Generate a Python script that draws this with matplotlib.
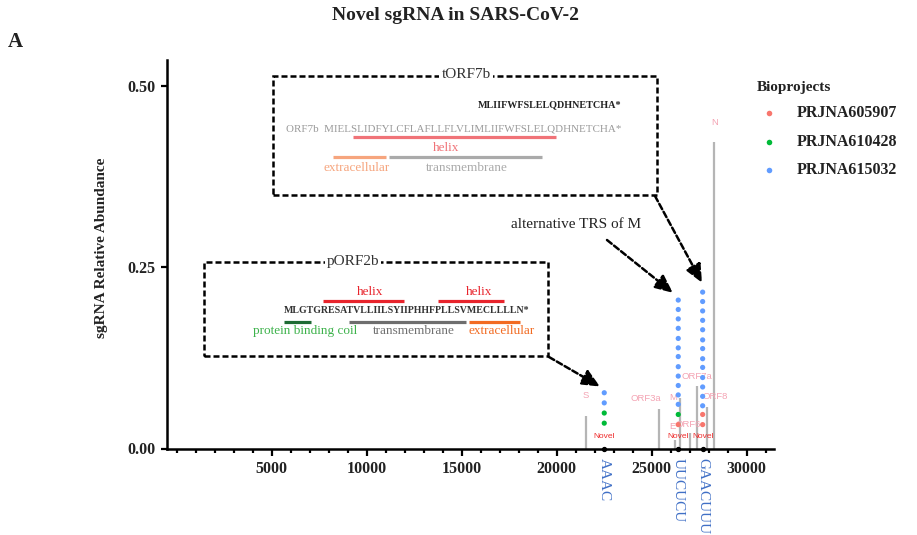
import matplotlib
matplotlib.use('Agg')
import matplotlib.pyplot as plt
from matplotlib.lines import Line2D
from matplotlib.patches import Rectangle
from matplotlib.ticker import MultipleLocator

W, H = 917, 535
SERIF = 'Liberation Serif'
SANS = 'Liberation Sans'

# ---------------- data ----------------
canon_genes = ['S', 'ORF3a', 'E', 'M', 'ORF6', 'ORF7a', 'ORF8', 'N']
canon_pos = [21542, 25384, 26226, 26489, 27016, 27384, 27910, 28295]
canon_abund = [0.045, 0.054, 0.012, 0.070, 0.021, 0.086, 0.057, 0.423]

novel_pos = [22505, 26400, 27684]
novel_motif = ['AAAC', 'UUCUCU', 'GAACUUU']

projects = ['PRJNA605907', 'PRJNA610428', 'PRJNA615032']
project_colors = ['#F8766D', '#00BA38', '#619CFF']

# abundance values of each novel sgRNA, per bioproject (one list per novel site)
abund_605907 = [[], [0.033], [0.047, 0.033]]
abund_610428 = [[0.049, 0.035], [0.047], []]
abund_615032 = [
    [0.077, 0.063],
    [0.205, 0.192, 0.179, 0.166, 0.152, 0.139, 0.127, 0.113, 0.100, 0.087, 0.074, 0.061],
    [0.216, 0.203, 0.190, 0.177, 0.164, 0.150, 0.138, 0.124, 0.112, 0.098, 0.085, 0.072, 0.059],
]
project_abund = [abund_605907, abund_610428, abund_615032]

x_ticks = [5000, 10000, 15000, 20000, 25000, 30000]
y_ticks = [0.00, 0.25, 0.50]

# label placement offsets (px) for gene names: (dx, dy) relative to the line top
label_off = {'S': (0, -20), 'ORF3a': (-13, -11), 'E': (-3, -13), 'M': (-7, 0),
             'ORF6': (-2, -9), 'ORF7a': (0, -10), 'ORF8': (8, -11), 'N': (0, -20)}

# ---------------- figure ----------------
fig = plt.figure(figsize=(W / 100, H / 100), dpi=100)
ax = fig.add_axes([167 / W, 1 - 448.5 / H, (774 - 167) / W, (448.5 - 60) / H])
ax.set_xlim(-510, 31440)
ax.set_ylim(0, 0.5366)

def fx(x):
    return x / W

def fy(y):
    return 1 - y / H

# canonical sgRNA lines
ax.vlines(canon_pos, 0, canon_abund, color='#b5b5b5', lw=1.6, zorder=2)
for g, p, a in zip(canon_genes, canon_pos, canon_abund):
    dx, dy = label_off[g]
    ax.annotate(g, (p, a), xytext=(dx * 0.72, -dy * 0.72), textcoords='offset points',
                ha='center', va='center', fontsize=6.8, family=SANS, color='#F4A3B3', zorder=4)

# novel sgRNA dots
for proj, col, ab in zip(projects, project_colors, project_abund):
    xs, ys = [], []
    for p, vals in zip(novel_pos, ab):
        xs += [p] * len(vals)
        ys += vals
    ax.scatter(xs, ys, s=14, color=col, edgecolors='none', zorder=5, label=proj)

ax.scatter(novel_pos, [0] * len(novel_pos), s=8, color='black', zorder=6, clip_on=False)
for p, m in zip(novel_pos, novel_motif):
    ax.annotate('Novel', (p, 0), xytext=(0, 8.3), textcoords='offset points',
                ha='center', va='center', fontsize=6.0, family=SANS, color='#EE2A2A', zorder=4)
    ax.annotate(m, (p, 0), xytext=(0, -7), textcoords='offset points', rotation=-90,
                ha='center', va='top', fontsize=11, family=SERIF, color='#3F6FC6',
                annotation_clip=False)

# axes styling
for s in ['top', 'right']:
    ax.spines[s].set_visible(False)
for s in ['left', 'bottom']:
    ax.spines[s].set_linewidth(1.8)
    ax.spines[s].set_color('black')
ax.set_xticks(x_ticks)
ax.set_xticklabels([str(t) for t in x_ticks])
ax.xaxis.set_minor_locator(MultipleLocator(1000))
ax.set_yticks(y_ticks)
ax.set_yticklabels(['%.2f' % t for t in y_ticks])
ax.tick_params(axis='x', which='major', length=5, width=1.6, pad=4, color='black')
ax.tick_params(axis='x', which='minor', length=3, width=1.6, color='black')
ax.tick_params(axis='y', which='major', length=4, width=1.6, pad=4, color='black')
for lab in ax.get_xticklabels() + ax.get_yticklabels():
    lab.set_family(SERIF)
    lab.set_fontweight('bold')
    lab.set_fontsize(11.5)
    lab.set_color('#222222')
ax.set_ylabel('sgRNA Relative Abundance', family=SERIF, fontweight='bold', fontsize=11,
              color='#222222', labelpad=12)
ax.yaxis.set_label_coords((108 - 167) / (774 - 167), (448.5 - 248) / (448.5 - 60))

# titles
fig.text(fx(455), fy(16), 'Novel sgRNA in SARS-CoV-2', ha='center', va='center',
         family=SERIF, fontweight='bold', fontsize=14, color='#222222')
fig.text(fx(15), fy(42), 'A', ha='center', va='center', family=SERIF,
         fontweight='bold', fontsize=15, color='#222222')

# legend (manual)
fig.text(fx(757), fy(87), 'Bioprojects', ha='left', va='center', family=SERIF,
         fontweight='bold', fontsize=11, color='#222222')
for i, (proj, col) in enumerate(zip(projects, project_colors)):
    yy = 113 + i * 28.5
    fig.add_artist(Line2D([fx(769)], [fy(yy)], marker='o', ms=4, color=col, mec='none',
                          transform=fig.transFigure))
    fig.text(fx(797), fy(yy), proj, ha='left', va='center', family=SERIF,
             fontweight='bold', fontsize=11.5, color='#222222')

# ---------------- annotation boxes ----------------
DASH = (0, (2.4, 1.2))

def dbox(x0, y0, x1, y1):
    fig.add_artist(Rectangle((fx(x0), fy(y1)), (x1 - x0) / W, (y1 - y0) / H,
                             transform=fig.transFigure, fill=False, ec='black',
                             lw=1.8, ls=DASH, zorder=3))

def bar(x0, x1, y, col, lw=2.3):
    fig.add_artist(Line2D([fx(x0), fx(x1)], [fy(y), fy(y)], color=col, lw=lw,
                          solid_capstyle='butt', transform=fig.transFigure, zorder=4))

def txt(x, y, s, col, size, weight='normal', ha='center', bg=False):
    kw = {}
    if bg:
        kw['bbox'] = dict(fc='white', ec='none', pad=1.5)
    fig.text(fx(x), fy(y), s, ha=ha, va='center', family=SERIF, fontsize=size,
             fontweight=weight, color=col, zorder=5, **kw)

# tORF7b box
dbox(273, 76, 657, 195)
txt(466, 74, 'tORF7b', '#333333', 11, bg=True)
txt(621, 105, 'MLIIFWFSLELQDHNETCHA*', '#222222', 7.3, weight='bold', ha='right')
txt(621, 129, 'ORF7b  MIELSLIDFYLCFLAFLLFLVLIMLIIFWFSLELQDHNETCHA*', '#9a9a9a', 7.95, ha='right')
bar(353, 556, 137, '#F07378')
txt(446, 148, 'helix', '#F07378', 9.5)
bar(333, 386, 157, '#F6A57E')
bar(389, 542, 157, '#AAAAAA')
txt(357, 168, 'extracellular', '#F6A57E', 9.5)
txt(467, 168, 'transmembrane', '#AAAAAA', 9.5)

# pORF2b box
dbox(204, 262, 548, 356)
txt(353, 261, 'pORF2b', '#333333', 11, bg=True)
txt(370, 292, 'helix', '#E8242C', 9.5)
bar(323, 404, 301, '#E8242C')
txt(479, 292, 'helix', '#E8242C', 9.5)
bar(438, 504, 301, '#E8242C')
txt(284, 310.5, 'MLGTGRESATVLLIILSYIIPHHFPLLSVMECLLLLN*', '#333333', 7.15, weight='bold', ha='left')
bar(284, 311, 322, '#1E6B34')
bar(349, 466, 322, '#6E6E6E')
bar(469, 520, 322, '#F26B22')
txt(305, 331, 'protein binding coil', '#3DB24B', 9.5)
txt(414, 331, 'transmembrane', '#707070', 9.5)
txt(502, 331, 'extracellular', '#F26B22', 9.5)

# alternative TRS label
txt(576, 225, 'alternative TRS of M', '#222222', 11)

# arrows
def arrow(x_px, y_px, xd, yd):
    ax.annotate('', xy=(xd, yd), xycoords='data', xytext=(x_px, H - y_px),
                textcoords='figure pixels', annotation_clip=False,
                arrowprops=dict(arrowstyle='-|>,head_length=1.0,head_width=0.45',
                                lw=1.8, ls=DASH, color='black', shrinkA=0, shrinkB=0,
                                mutation_scale=11))

arrow(549, 357, 22280, 0.0856)
arrow(607, 240, 26120, 0.215)
arrow(655, 196, 27650, 0.229)

fig.savefig('out.png', dpi=100)
